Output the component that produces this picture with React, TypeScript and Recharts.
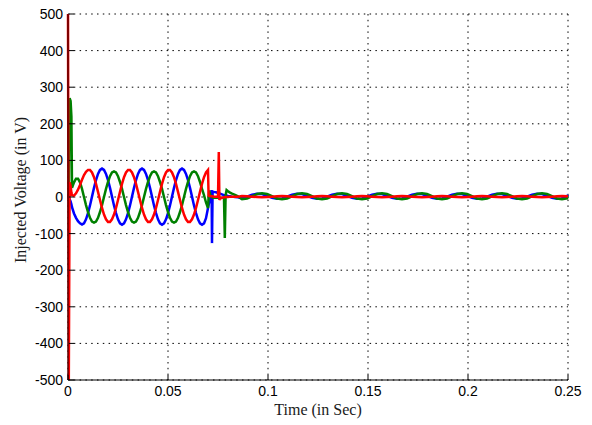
import React from "react";
import {
  LineChart,
  Line,
  XAxis,
  YAxis,
  CartesianGrid,
} from "recharts";

// sample times (s): start-up, steady sine, transient, compensated tail
const time = [
  0, 0.0004, 0.0008, 0.0013, 0.0017, 0.002,
  0.003, 0.004, 0.005, 0.006, 0.007, 0.008, 0.009, 0.01,
  0.011, 0.012, 0.013, 0.014, 0.015, 0.016, 0.017, 0.018, 0.019, 0.02,
  0.021, 0.022, 0.023, 0.024, 0.025, 0.026, 0.027, 0.028, 0.029, 0.03,
  0.031, 0.032, 0.033, 0.034, 0.035, 0.036, 0.037, 0.038, 0.039, 0.04,
  0.041, 0.042, 0.043, 0.044, 0.045, 0.046, 0.047, 0.048, 0.049, 0.05,
  0.051, 0.052, 0.053, 0.054, 0.055, 0.056, 0.057, 0.058, 0.059, 0.06,
  0.061, 0.062, 0.063, 0.064, 0.065, 0.066, 0.067, 0.068, 0.069, 0.07,
  0.0703, 0.0706, 0.071, 0.0715, 0.0718, 0.072, 0.0723, 0.073, 0.074, 0.075,
  0.0754, 0.0757, 0.076, 0.077, 0.078, 0.0784, 0.0788, 0.0793, 0.08, 0.081,
  0.082, 0.0835, 0.085,
  0.087, 0.0895, 0.092, 0.0945, 0.097, 0.0995, 0.102, 0.1045,
  0.107, 0.1095, 0.112, 0.1145, 0.117, 0.1195, 0.122, 0.1245,
  0.127, 0.1295, 0.132, 0.1345, 0.137, 0.1395, 0.142, 0.1445,
  0.147, 0.1495, 0.152, 0.1545, 0.157, 0.1595, 0.162, 0.1645,
  0.167, 0.1695, 0.172, 0.1745, 0.177, 0.1795, 0.182, 0.1845,
  0.187, 0.1895, 0.192, 0.1945, 0.197, 0.1995, 0.202, 0.2045,
  0.207, 0.2095, 0.212, 0.2145, 0.217, 0.2195, 0.222, 0.2245,
  0.227, 0.2295, 0.232, 0.2345, 0.237, 0.2395, 0.242, 0.2445,
  0.247, 0.2495, 0.25,
];

const phaseRed = [
  500, -500, 40, 30, 12, 5,
  4, 10, 20, 33, 47, 60, 69, 74,
  74, 67, 54, 36, 14, -8, -30, -48, -61, -68,
  -68, -61, -48, -30, -8, 14, 36, 54, 67, 74,
  74, 67, 54, 36, 14, -8, -30, -48, -61, -68,
  -68, -61, -48, -30, -8, 14, 36, 54, 67, 74,
  74, 67, 54, 36, 14, -8, -30, -48, -61, -68,
  -68, -61, -48, -30, -8, 14, 36, 54, 67, 74,
  4, 3, 3, 2, 2, 2, 2, 1, 1, 0,
  123, -8, -4, -2, -1, -1, 0, 0, 0, 1,
  1, 1, 1,
  3, 2, 1, 0, -1, 0, 1, 2,
  3, 2, 1, 0, -1, 0, 1, 2,
  3, 2, 1, 0, -1, 0, 1, 2,
  3, 2, 1, 0, -1, 0, 1, 2,
  3, 2, 1, 0, -1, 0, 1, 2,
  3, 2, 1, 0, -1, 0, 1, 2,
  3, 2, 1, 0, -1, 0, 1, 2,
  3, 2, 1, 0, -1, 0, 1, 2,
  3, 2, 1,
];

const phaseBlue = [
  0, -3, -6, -12, -20, -28,
  -45, -57, -66, -72, -75, -72, -61, -44,
  -23, 1, 25, 46, 63, 74, 78, 74, 63, 46,
  25, 1, -23, -44, -61, -72, -76, -72, -61, -44,
  -23, 1, 25, 46, 63, 74, 78, 74, 63, 46,
  25, 1, -23, -44, -61, -72, -76, -72, -61, -44,
  -23, 1, 25, 46, 63, 74, 78, 74, 63, 46,
  25, 1, -23, -44, -61, -72, -76, -72, -58, -30,
  -22, -15, -8, 5, 19, -126, 15, 14, 13, 11,
  10, 10, 9, 7, 5, 5, 4, 4, 3, 2,
  1, 0, -1,
  -4, 1, 6, 9, 8, 3, -2, -5,
  -4, 1, 6, 9, 8, 3, -2, -5,
  -4, 1, 6, 9, 8, 3, -2, -5,
  -4, 1, 6, 9, 8, 3, -2, -5,
  -4, 1, 6, 9, 8, 3, -2, -5,
  -4, 1, 6, 9, 8, 3, -2, -5,
  -4, 1, 6, 9, 8, 3, -2, -5,
  -4, 1, 6, 9, 8, 3, -2, -5,
  -4, 1, 6,
];

const phaseGreen = [
  0, 5, 270, 262, 220, 25,
  40, 50, 50, 40, 22, 0, -22, -41,
  -57, -67, -70, -67, -57, -41, -22, 0, 22, 41,
  57, 67, 70, 67, 57, 41, 22, 0, -22, -41,
  -57, -67, -70, -67, -57, -41, -22, 0, 22, 41,
  57, 67, 70, 67, 57, 41, 22, 0, -22, -41,
  -57, -67, -70, -67, -57, -41, -22, 0, 22, 41,
  57, 67, 70, 67, 57, 41, 22, 5, -15, -30,
  0, 18, 8, 2, 0, -1, -2, -2, -2, -2,
  -2, -2, -2, -2, -3, -112, 5, 19, 16, 12,
  9, 6, 2,
  -6, -4, 2, 8, 10, 8, 2, -4,
  -6, -4, 2, 8, 10, 8, 2, -4,
  -6, -4, 2, 8, 10, 8, 2, -4,
  -6, -4, 2, 8, 10, 8, 2, -4,
  -6, -4, 2, 8, 10, 8, 2, -4,
  -6, -4, 2, 8, 10, 8, 2, -4,
  -6, -4, 2, 8, 10, 8, 2, -4,
  -6, -4, 2, 8, 10, 8, 2, -4,
  -6, -4, 2,
];

const xTicks = [0, 0.05, 0.1, 0.15, 0.2, 0.25];
const yTicks = [-500, -400, -300, -200, -100, 0, 100, 200, 300, 400, 500];

const data = time.map((t, i) => ({
  t,
  red: phaseRed[i],
  blue: phaseBlue[i],
  green: phaseGreen[i],
}));

const tickFont = { fontFamily: "'Liberation Sans', Arial, sans-serif", fontSize: 14 };
const labelFont = { fontFamily: "'Liberation Serif', 'Times New Roman', serif", fontSize: 16 };
const MARGIN = 6;
const TICK_LEN = 5;

const BottomTick = (props: any) => {
  const { x, y, payload } = props;
  return (
    <g>
      <line x1={x} y1={y - MARGIN} x2={x} y2={y - MARGIN - TICK_LEN} stroke="#000" />
      <text x={x} y={y} dy="0.72em" textAnchor="middle" fill="#000" {...tickFont}>
        {String(payload.value)}
      </text>
    </g>
  );
};

const LeftTick = (props: any) => {
  const { x, y, payload } = props;
  return (
    <g>
      <line x1={x + MARGIN} y1={y} x2={x + MARGIN + TICK_LEN} y2={y} stroke="#000" />
      <text x={x} y={y} dy="0.36em" textAnchor="end" fill="#000" {...tickFont}>
        {String(payload.value)}
      </text>
    </g>
  );
};

const TopTick = (props: any) => {
  const { x, y } = props;
  return <line x1={x} y1={y} x2={x} y2={y + TICK_LEN} stroke="#000" />;
};

const RightTick = (props: any) => {
  const { x, y } = props;
  return <line x1={x} y1={y} x2={x - TICK_LEN} y2={y} stroke="#000" />;
};

const App: React.FC = () => {
  return (
    <div style={{ position: "absolute", left: 0, top: 0, background: "#fff" }}>
      <LineChart
        width={592}
        height={425}
        data={data}
        margin={{ top: 14, right: 24, bottom: 0, left: 0 }}
      >
        <CartesianGrid stroke="#000" strokeDasharray="1.5 4.3" />
        <XAxis
          dataKey="t"
          type="number"
          domain={[0, 0.25]}
          ticks={xTicks}
          interval={0}
          height={45}
          tickSize={0}
          tickMargin={MARGIN}
          tickLine={false}
          tick={<BottomTick />}
          axisLine={{ stroke: "#000" }}
          label={{
            content: (p: any) => (
              <text
                x={p.viewBox.x + p.viewBox.width / 2}
                y={p.viewBox.y + p.viewBox.height - 10}
                textAnchor="middle"
                fill="#1a1a1a"
                {...labelFont}
              >
                Time (in Sec)
              </text>
            ),
          }}
        />
        <XAxis
          xAxisId="top"
          dataKey="t"
          type="number"
          orientation="top"
          domain={[0, 0.25]}
          ticks={xTicks}
          interval={0}
          height={0}
          tickSize={0}
          tickMargin={0}
          tickLine={false}
          tick={<TopTick />}
          axisLine={{ stroke: "#000" }}
        />
        <YAxis
          type="number"
          domain={[-500, 500]}
          ticks={yTicks}
          interval={0}
          width={68}
          tickSize={0}
          tickMargin={MARGIN - 1}
          tickLine={false}
          tick={<LeftTick />}
          axisLine={{ stroke: "#000" }}
          allowDataOverflow
          label={{
            content: (p: any) => {
              const cx = p.viewBox.x + 26;
              const cy = p.viewBox.y + p.viewBox.height / 2 - 7;
              return (
                <text
                  x={cx}
                  y={cy}
                  transform={`rotate(-90, ${cx}, ${cy})`}
                  textAnchor="middle"
                  fill="#1a1a1a"
                  {...labelFont}
                >
                  Injected Voltage (in V)
                </text>
              );
            },
          }}
        />
        <YAxis
          yAxisId="right"
          orientation="right"
          type="number"
          domain={[-500, 500]}
          ticks={yTicks}
          interval={0}
          width={0}
          tickSize={0}
          tickMargin={0}
          tickLine={false}
          tick={<RightTick />}
          axisLine={{ stroke: "#000" }}
        />
        <Line
          type="linear"
          dataKey="blue"
          stroke="#0000ff"
          strokeWidth={2.5}
          dot={false}
          isAnimationActive={false}
        />
        <Line
          type="linear"
          dataKey="green"
          stroke="#008000"
          strokeWidth={2.5}
          dot={false}
          isAnimationActive={false}
        />
        <Line
          type="linear"
          dataKey="red"
          stroke="#ff0000"
          strokeWidth={2.5}
          dot={false}
          isAnimationActive={false}
        />
      </LineChart>
    </div>
  );
};

export default App;
